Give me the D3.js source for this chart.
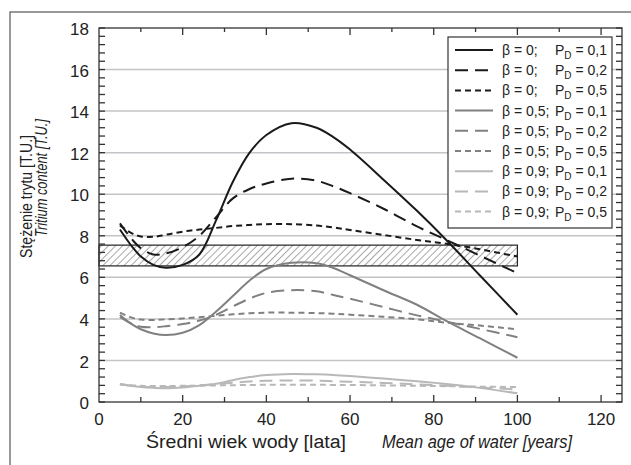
<!DOCTYPE html>
<html>
<head>
<meta charset="utf-8">
<script src="https://d3js.org/d3.v7.min.js"></script>
<style>
  body { margin: 0; background: #fff; }
  text { font-family: "Liberation Sans", Arial, sans-serif; fill: #222; }
</style>
</head>
<body>
<script>
  // mean age of water [years] where the curves were read
  const ages = [5, 8, 10, 13, 16, 20, 24, 28, 32, 36, 40, 46, 52, 56, 60, 68, 76, 83, 91, 100];

  // tritium content [T.U.] for each beta / P_D pair
  const b0p1 = [8.3, 7.45, 7.0, 6.6, 6.46, 6.6, 7.1, 8.75, 10.6, 12.0, 12.85, 13.42, 13.2, 12.75, 12.15, 10.7, 9.2, 7.8, 6.1, 4.2];
  const b0p2 = [8.6, 7.8, 7.4, 7.1, 7.15, 7.45, 8.0, 8.9, 9.8, 10.25, 10.52, 10.75, 10.65, 10.38, 10.05, 9.3, 8.45, 7.8, 7.05, 6.2];
  const b0p5 = [8.5, 8.1, 7.97, 7.95, 8.05, 8.2, 8.3, 8.38, 8.47, 8.52, 8.56, 8.56, 8.49, 8.4, 8.28, 8.04, 7.8, 7.62, 7.35, 7.0];
  const b5p1 = [4.19, 3.72, 3.5, 3.3, 3.22, 3.33, 3.7, 4.35, 5.1, 5.85, 6.4, 6.7, 6.68, 6.45, 6.1, 5.38, 4.68, 3.9, 3.07, 2.13];
  const b5p2 = [4.1, 3.75, 3.62, 3.6, 3.65, 3.75, 3.92, 4.2, 4.6, 4.98, 5.25, 5.38, 5.33, 5.15, 4.97, 4.57, 4.17, 3.87, 3.52, 3.12];
  const b5p5 = [4.3, 4.05, 3.97, 3.95, 3.98, 4.02, 4.08, 4.15, 4.22, 4.27, 4.3, 4.3, 4.28, 4.25, 4.2, 4.1, 3.98, 3.82, 3.68, 3.5];
  const b9p1 = [0.85, 0.77, 0.72, 0.68, 0.66, 0.7, 0.78, 0.88, 1.05, 1.2, 1.3, 1.35, 1.33, 1.3, 1.25, 1.13, 1.0, 0.87, 0.68, 0.42];
  const b9p2 = [0.85, 0.78, 0.74, 0.72, 0.72, 0.75, 0.8, 0.86, 0.93, 0.99, 1.02, 1.04, 1.03, 1.0, 0.98, 0.92, 0.85, 0.78, 0.7, 0.6];
  const b9p5 = [0.85, 0.8, 0.78, 0.77, 0.77, 0.78, 0.79, 0.8, 0.81, 0.82, 0.83, 0.83, 0.83, 0.82, 0.82, 0.8, 0.78, 0.76, 0.74, 0.72];

  const betaLabels = ['β = 0;', 'β = 0;', 'β = 0;', 'β = 0,5;', 'β = 0,5;', 'β = 0,5;', 'β = 0,9;', 'β = 0,9;', 'β = 0,9;'];
  const pdLabels = ['0,1', '0,2', '0,5', '0,1', '0,2', '0,5', '0,1', '0,2', '0,5'];

  // hatched band of measured values
  const bandAge = [0, 100];
  const bandTritium = [6.55, 7.55];

  const xTicks = [0, 20, 40, 60, 80, 100, 120];
  const yTicks = [0, 2, 4, 6, 8, 10, 12, 14, 16, 18];

  const W = 631, H = 465;
  const m = { left: 99, right: 622, top: 28, bottom: 402 };

  const colors = ['#1a1a1a', '#1a1a1a', '#1a1a1a', '#808080', '#808080', '#808080', '#b8b8b8', '#b8b8b8', '#b8b8b8'];
  const dashes = [null, '13,7', '6,4', null, '13,7', '6,4', null, '13,7', '6,4'];
  const allSeries = [b0p1, b0p2, b0p5, b5p1, b5p2, b5p5, b9p1, b9p2, b9p5];

  let svg = d3.select('body')
    .append('svg')
    .attr('width', W)
    .attr('height', H)

  svg.append('rect').attr('width', W).attr('height', H).attr('fill', '#fff')

  // outer frame
  svg.append('rect')
    .attr('x', 10).attr('y', 12)
    .attr('width', W).attr('height', H)
    .attr('fill', 'none')
    .attr('stroke', '#555')
    .attr('stroke-width', 1.2)

  let x = d3.scaleLinear().domain([0, 125]).range([m.left, m.right]);
  let y = d3.scaleLinear().domain([0, 18]).range([m.bottom, m.top]);

  // hatch pattern
  let pat = svg.append('defs').append('pattern')
    .attr('id', 'hatch')
    .attr('patternUnits', 'userSpaceOnUse')
    .attr('width', 5).attr('height', 5)
    .attr('patternTransform', 'rotate(45)')
  pat.append('line')
    .attr('x1', 0).attr('y1', 0).attr('x2', 0).attr('y2', 5)
    .attr('stroke', '#222').attr('stroke-width', 0.8)

  // gridlines
  svg.append('g')
    .selectAll('line')
    .data(yTicks.filter(d => d > 0 && d < 18))
    .enter()
    .append('line')
    .attr('x1', m.left).attr('x2', m.right)
    .attr('y1', d => y(d)).attr('y2', d => y(d))
    .attr('stroke', '#c4c4c8')
    .attr('stroke-width', 1.5)

  // band
  svg.append('rect')
    .attr('x', x(bandAge[0]))
    .attr('y', y(bandTritium[1]))
    .attr('width', x(bandAge[1]) - x(bandAge[0]))
    .attr('height', y(bandTritium[0]) - y(bandTritium[1]))
    .attr('fill', 'url(#hatch)')
    .attr('stroke', '#222')
    .attr('stroke-width', 1.2)

  // curves
  let line = d3.line()
    .x((d, i) => x(ages[i]))
    .y(d => y(d))
    .curve(d3.curveCatmullRom.alpha(0.5))

  // draw light ones first so black sits on top
  for (let i = allSeries.length - 1; i >= 0; i--) {
    svg.append('path')
      .attr('d', line(allSeries[i]))
      .attr('fill', 'none')
      .attr('stroke', colors[i])
      .attr('stroke-width', 2)
      .attr('stroke-dasharray', dashes[i])
  }

  // axes box with inward ticks
  let axes = svg.append('g').attr('stroke', '#333').attr('stroke-width', 1.3)
  axes.append('rect')
    .attr('x', m.left).attr('y', m.top)
    .attr('width', m.right - m.left).attr('height', m.bottom - m.top)
    .attr('fill', 'none')

  let yMinor = d3.range(0, 18.01, 0.4);
  axes.selectAll('.yl').data(yMinor).enter().append('line')
    .attr('x1', m.left).attr('x2', m.left + 6)
    .attr('y1', d => y(d)).attr('y2', d => y(d))
  axes.selectAll('.yr').data(yMinor).enter().append('line')
    .attr('x1', m.right).attr('x2', m.right - 6)
    .attr('y1', d => y(d)).attr('y2', d => y(d))

  let xMinor = d3.range(10, 125, 10);
  axes.selectAll('.xt').data(xMinor).enter().append('line')
    .attr('x1', d => x(d)).attr('x2', d => x(d))
    .attr('y1', m.top).attr('y2', d => m.top + (d % 20 === 0 ? 7 : 4))
  axes.selectAll('.xb').data(xMinor).enter().append('line')
    .attr('x1', d => x(d)).attr('x2', d => x(d))
    .attr('y1', m.bottom).attr('y2', d => m.bottom - (d % 20 === 0 ? 7 : 5))

  // tick labels
  svg.append('g').selectAll('text')
    .data(yTicks).enter().append('text')
    .attr('x', 89).attr('y', d => y(d))
    .attr('dy', '0.42em')
    .attr('text-anchor', 'end')
    .attr('font-size', 17)
    .text(d => d)

  svg.append('g').selectAll('text')
    .data(xTicks).enter().append('text')
    .attr('x', d => x(d)).attr('y', 425)
    .attr('text-anchor', 'middle')
    .attr('font-size', 17)
    .text(d => d)

  // axis titles (the original face is a condensed one, so widths are fixed)
  svg.append('text')
    .attr('x', 146).attr('y', 448)
    .attr('font-size', 18)
    .attr('textLength', 200)
    .attr('lengthAdjust', 'spacingAndGlyphs')
    .text('Średni wiek wody [lata]')
  svg.append('text')
    .attr('x', 382).attr('y', 448)
    .attr('font-size', 18)
    .attr('font-style', 'italic')
    .attr('textLength', 190)
    .attr('lengthAdjust', 'spacingAndGlyphs')
    .text('Mean age of water [years]')

  svg.append('text')
    .attr('transform', 'translate(31.5,258) rotate(-90)')
    .attr('font-size', 16.5)
    .attr('textLength', 123)
    .attr('lengthAdjust', 'spacingAndGlyphs')
    .text('Stężenie trytu [T.U.]')
  svg.append('text')
    .attr('transform', 'translate(47,237) rotate(-90)')
    .attr('font-size', 16.5)
    .attr('font-style', 'italic')
    .attr('textLength', 118)
    .attr('lengthAdjust', 'spacingAndGlyphs')
    .text('Tritium content [T.U.]')

  // legend
  let lg = svg.append('g')
  lg.append('rect')
    .attr('x', 448).attr('y', 37)
    .attr('width', 164).attr('height', 191)
    .attr('fill', '#fff')
    .attr('stroke', '#333')
    .attr('stroke-width', 1.2)

  let rows = lg.selectAll('.row')
    .data(allSeries)
    .enter()
    .append('g')
    .attr('transform', (d, i) => `translate(0,${50 + i * 20.2})`)

  rows.append('line')
    .attr('x1', 455).attr('x2', 493)
    .attr('stroke', (d, i) => colors[i])
    .attr('stroke-width', 2)
    .attr('stroke-dasharray', (d, i) => dashes[i])

  rows.append('text')
    .attr('x', 502).attr('dy', '0.35em')
    .attr('font-size', 14)
    .text((d, i) => betaLabels[i])

  let pd = rows.append('text')
    .attr('x', 555).attr('dy', '0.35em')
    .attr('font-size', 14)
  pd.append('tspan').text('P')
  pd.append('tspan').attr('font-size', 10).attr('dy', 4).text('D')
  pd.append('tspan').attr('dy', -4).text((d, i) => ' = ' + pdLabels[i])
</script>
</body>
</html>
